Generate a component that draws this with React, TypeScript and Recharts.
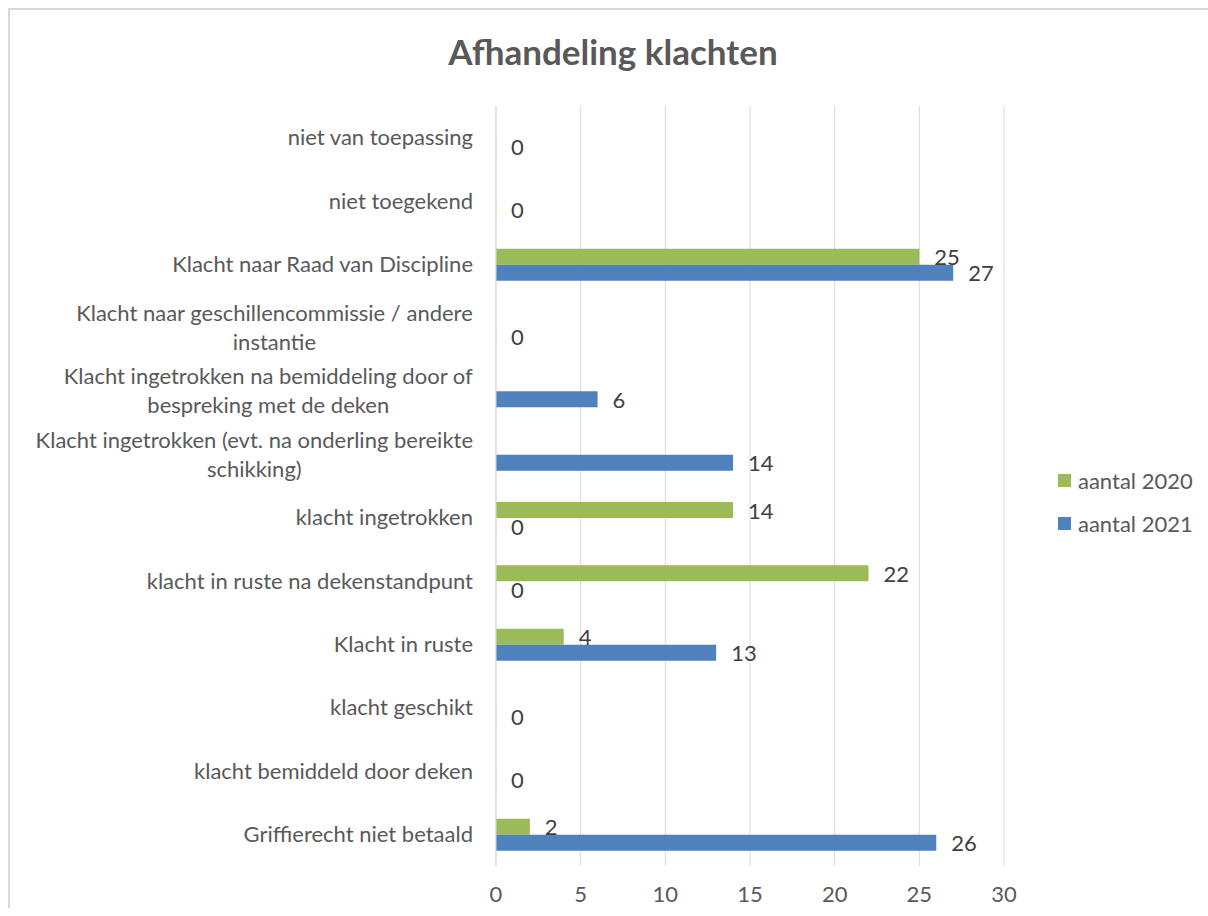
import { BarChart, Bar, XAxis, YAxis, CartesianGrid, LabelList } from "recharts";

const categories = [
  "niet van toepassing",
  "niet toegekend",
  "Klacht naar Raad van Discipline",
  "Klacht naar geschillencommissie / andere\ninstantie",
  "Klacht ingetrokken na bemiddeling door of\nbespreking met de deken",
  "Klacht ingetrokken (evt. na onderling bereikte\nschikking)",
  "klacht ingetrokken",
  "klacht in ruste na dekenstandpunt",
  "Klacht in ruste",
  "klacht geschikt",
  "klacht bemiddeld door deken",
  "Griffierecht niet betaald",
];

const aantal2020 = [null, null, 25, null, null, null, 14, 22, 4, null, null, 2];
const aantal2021 = [0, 0, 27, 0, 6, 14, 0, 0, 13, 0, 0, 26];
const xTicks = [0, 5, 10, 15, 20, 25, 30];

const GREEN = "#9bbb59";
const BLUE = "#4f81bd";
const FONT = "Lato, 'Open Sans', sans-serif";
const FS = 22;

const data = categories.map((name, i) => ({
  name,
  a2020: aantal2020[i],
  a2021: aantal2021[i],
}));

let ctx: CanvasRenderingContext2D | null = null;
function textWidth(s: string, size: number) {
  if (!ctx) ctx = document.createElement("canvas").getContext("2d");
  if (!ctx) return s.length * size * 0.5;
  ctx.font = `${size}px Lato`;
  return ctx.measureText(s).width;
}

function CategoryTick({ x, y, payload }: any) {
  const lines = String(payload.value).split("\n");
  if (lines.length === 1) {
    return (
      <text x={x} y={y} dy="0.35em" textAnchor="end" fontSize={FS} fill="#595959" fontFamily={FONT}>
        {lines[0]}
      </text>
    );
  }
  const w = Math.max(...lines.map((l) => textWidth(l, FS)));
  const cx = x - w / 2;
  return (
    <text textAnchor="middle" fontSize={FS} fill="#595959" fontFamily={FONT}>
      {lines.map((l, i) => (
        <tspan key={i} x={cx} y={y + (i - (lines.length - 1) / 2) * 29} dy="0.35em">
          {l}
        </tspan>
      ))}
    </text>
  );
}

// value label, also for zero-length bars
function ValueLabel(p: any) {
  if (p.value == null) return null;
  const x = Number(p.x) + Number(p.width || 0) + 15;
  const y = Number(p.y) + Number(p.height || 0) / 2;
  return (
    <text x={x} y={y} dy="0.4em" fontSize={FS} fill="#404040" fontFamily={FONT}>
      {p.value}
    </text>
  );
}

// zero values still need a (invisible) bar so their label gets drawn
const zeroSize = (v: any) => (v === 0 ? 0.01 : 0);

function LegendBox() {
  const items = [
    { label: "aantal 2020", color: GREEN },
    { label: "aantal 2021", color: BLUE },
  ];
  return (
    <div
      style={{
        position: "absolute",
        left: 1048,
        top: 449,
        fontFamily: FONT,
        fontSize: FS,
        color: "#595959",
      }}
    >
      {items.map((it) => (
        <div key={it.label} style={{ display: "flex", alignItems: "center", height: 43 }}>
          <span style={{ width: 13, height: 13, background: it.color, marginRight: 7 }} />
          <span>{it.label}</span>
        </div>
      ))}
    </div>
  );
}

export default function App() {
  return (
    <>
      <style>{"body{margin:0;overflow:hidden}"}</style>
      <div
        style={{
          position: "relative",
          left: 8,
          top: 8,
          width: 1200,
          height: 908,
          boxSizing: "border-box",
          borderTop: "2px solid #d9d9d9",
          borderLeft: "2px solid #d9d9d9",
          background: "#fff",
        }}
      >
        <div
          style={{
            position: "absolute",
            left: 603,
            top: 24,
            transform: "translateX(-50%)",
            fontFamily: FONT,
            fontWeight: 700,
            fontSize: 35,
            lineHeight: "35px",
            color: "#595959",
            whiteSpace: "nowrap",
          }}
        >
          Afhandeling klachten
        </div>
        <div style={{ position: "absolute", left: 0, top: 0 }}>
          <BarChart
            width={1190}
            height={900}
            data={data}
            layout="vertical"
            margin={{ top: 96, right: 196, left: 0, bottom: 0 }}
            barSize={16}
            barGap={0}
          >
            <CartesianGrid horizontal={false} stroke="#d9d9d9" />
            <XAxis
              type="number"
              domain={[0, 30]}
              ticks={xTicks}
              axisLine={false}
              tickLine={false}
              tickSize={0}
              tickMargin={20}
              height={44}
              tick={{ fontSize: FS, fill: "#595959", fontFamily: FONT }}
            />
            <YAxis
              type="category"
              dataKey="name"
              width={486}
              axisLine={{ stroke: "#d9d9d9" }}
              tickLine={false}
              tickSize={0}
              tickMargin={23}
              interval={0}
              tick={<CategoryTick />}
            />
            <Bar dataKey="a2020" name="aantal 2020" fill={GREEN} isAnimationActive={false}>
              <LabelList dataKey="a2020" content={ValueLabel} />
            </Bar>
            <Bar
              dataKey="a2021"
              name="aantal 2021"
              fill={BLUE}
              minPointSize={zeroSize}
              isAnimationActive={false}
            >
              <LabelList dataKey="a2021" content={ValueLabel} />
            </Bar>
          </BarChart>
        </div>
        <LegendBox />
      </div>
    </>
  );
}
